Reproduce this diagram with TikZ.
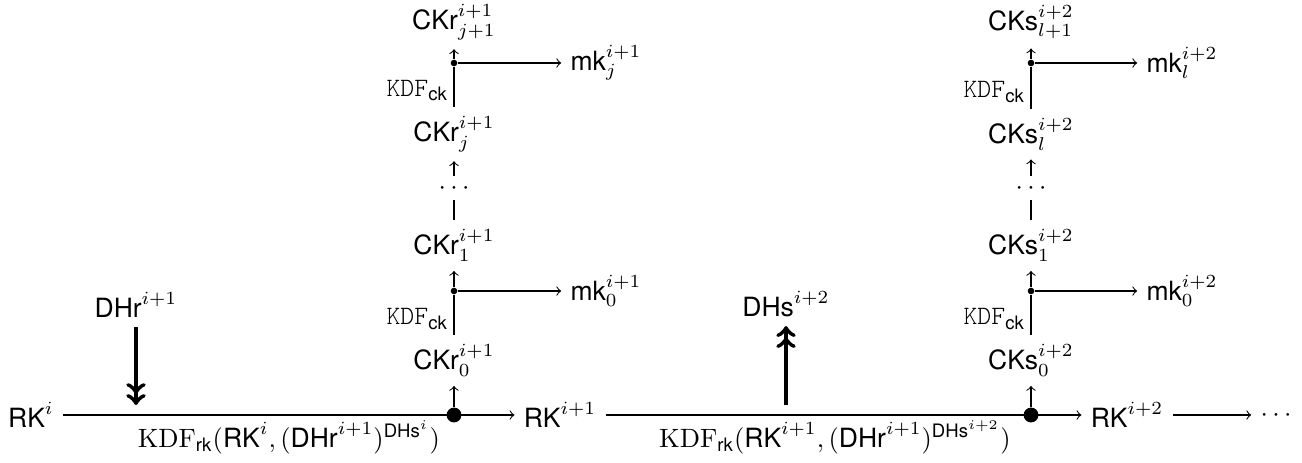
\documentclass[tikz,border=0pt]{standalone}
\usepackage{fontspec}
\setsansfont{TeX Gyre Heros}
\setmonofont{Latin Modern Mono Light}
\begin{document}
\begin{tikzpicture}[x=0.3774pt,y=-0.3774pt,
  bigdot/.style={circle,fill,inner sep=0pt,minimum size=5.6pt},
  smalldot/.style={circle,fill,inner sep=0pt,minimum size=2.5pt},
  dotsnode/.style={text height=5pt,text depth=0pt,inner xsep=3.33pt,inner ysep=0pt,minimum height=8.7pt},
  kdf/.style={left,inner sep=2pt,pos=0.4},
  rklabel/.style={below,inner sep=2pt},
  dharrow/.style={line width=1.6pt,->>}]
\useasboundingbox (0,0) rectangle (1302,463);

% main row
\node (rki) at (31,415) {$\mathsf{RK}^i$};
\node (rki1) at (560,415) {$\mathsf{RK}^{i+1}$};
\node (rki2) at (1127,415) {$\mathsf{RK}^{i+2}$};
\node[dotsnode] (hdots) at (1276,415) {$\cdots$};

% DH inputs
\node (dhr) at (136,305) {$\mathsf{DHr}^{i+1}$};
\coordinate (dhrt) at (136,405);
\node (dhs) at (786,304) {$\mathsf{DHs}^{i+2}$};
\coordinate (dhsb) at (786,405);

% column 1
\node[bigdot] (b1) at (454,415) {};
\node (r0) at (454,360.5) {$\mathsf{CKr}^{i+1}_0$};
\node[smalldot] (r0d) at (454,291) {};
\node (m0) at (606,291) {$\mathsf{mk}^{i+1}_0$};
\node (r1) at (454,245.5) {$\mathsf{CKr}^{i+1}_1$};
\node[dotsnode] (rv) at (454,188) {$\cdots$};
\node (rj) at (454,134) {$\mathsf{CKr}^{i+1}_j$};
\node[smalldot] (rjd) at (454,63) {};
\node (mj) at (606,63) {$\mathsf{mk}^{i+1}_j$};
\node (rj1) at (454,22) {$\mathsf{CKr}^{i+1}_{j+1}$};

% column 2
\node[bigdot] (b2) at (1031,415) {};
\node (s0) at (1031,360.5) {$\mathsf{CKs}^{i+2}_0$};
\node[smalldot] (s0d) at (1031,291) {};
\node (n0) at (1182,291) {$\mathsf{mk}^{i+2}_0$};
\node (s1) at (1031,245.5) {$\mathsf{CKs}^{i+2}_1$};
\node[dotsnode] (sv) at (1031,188) {$\cdots$};
\node (sl) at (1031,134) {$\mathsf{CKs}^{i+2}_l$};
\node[smalldot] (sld) at (1031,63) {};
\node (nl) at (1182,63) {$\mathsf{mk}^{i+2}_l$};
\node (sl1) at (1031,22) {$\mathsf{CKs}^{i+2}_{l+1}$};

% main connectors
\draw[->] (rki) -- node[rklabel] {$\mathrm{KDF}_{\mathsf{rk}}(\mathsf{RK}^i,(\mathsf{DHr}^{i+1})^{\mathsf{DHs}^i})$} (rki1);
\draw[->] (rki1) -- node[rklabel,pos=0.482] {$\mathrm{KDF}_{\mathsf{rk}}(\mathsf{RK}^{i+1},(\mathsf{DHr}^{i+1})^{\mathsf{DHs}^{i+2}})$} (rki2);
\draw[->] (rki2) -- (hdots);
\draw[dharrow] (dhr) -- (dhrt);
\draw[dharrow] (dhsb) -- (dhs);

% column 1 connectors
\draw[->] (b1) -- (r0);
\draw (r0) -- node[kdf] {$\mathtt{KDF}_{\mathsf{ck}}$} (r0d);
\draw[->] (r0d) -- (r1);
\draw[->] (r0d) -- (m0);
\draw (r1) -- (rv);
\draw[->] (rv) -- (rj);
\draw (rj) -- node[kdf] {$\mathtt{KDF}_{\mathsf{ck}}$} (rjd);
\draw[->] (rjd) -- (rj1);
\draw[->] (rjd) -- (mj);

% column 2 connectors
\draw[->] (b2) -- (s0);
\draw (s0) -- node[kdf] {$\mathtt{KDF}_{\mathsf{ck}}$} (s0d);
\draw[->] (s0d) -- (s1);
\draw[->] (s0d) -- (n0);
\draw (s1) -- (sv);
\draw[->] (sv) -- (sl);
\draw (sl) -- node[kdf] {$\mathtt{KDF}_{\mathsf{ck}}$} (sld);
\draw[->] (sld) -- (sl1);
\draw[->] (sld) -- (nl);
\end{tikzpicture}
\end{document}
